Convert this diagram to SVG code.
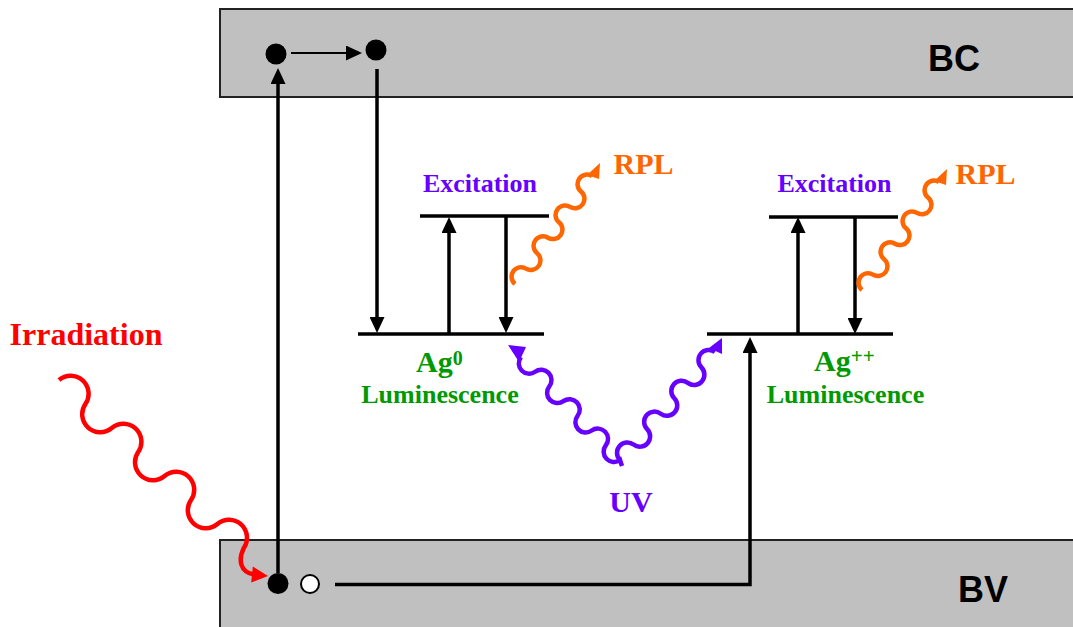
<svg xmlns="http://www.w3.org/2000/svg" width="1073" height="627" viewBox="0 0 1073 627">
<defs>
<marker id="ah" markerUnits="userSpaceOnUse" markerWidth="16" markerHeight="15" refX="8" refY="7.5" orient="auto">
<path d="M0,0 L16,7.5 L0,15 Z" fill="#000"/>
</marker>
</defs>
<style>
.band{fill:#c0c0c0;stroke:#222;stroke-width:2}
.lvl{stroke:#000;stroke-width:3.5;fill:none}
.arr{stroke:#000;stroke-width:3.5;fill:none;marker-end:url(#ah)}
.thin{stroke:#000;stroke-width:2;fill:none;marker-end:url(#ah)}
.wave{fill:none;stroke-width:4.5;stroke-linecap:butt}
.serif{font-family:"Liberation Serif","Times New Roman",serif;font-weight:bold}
.sans{font-family:"Liberation Sans",Arial,sans-serif;font-weight:bold;font-size:36px;fill:#000}
.red{fill:#ff0000}.orange{fill:#ff6600}.purple{fill:#6600ff}.green{fill:#009900}
</style>
<rect width="1073" height="627" fill="#fff"/>
<g id="bc-band">
<rect class="band" x="220" y="9" width="870" height="88"/>
<text class="sans" x="954" y="71" text-anchor="middle">BC</text>
</g>
<g id="bv-band">
<rect class="band" x="220" y="540" width="870" height="100"/>
<text class="sans" x="983" y="602" text-anchor="middle">BV</text>
</g>
<g id="electrons">
<circle cx="276" cy="54" r="10.5" fill="#000"/>
<circle cx="376" cy="50" r="10.5" fill="#000"/>
<circle cx="278" cy="583.5" r="10.5" fill="#000"/>
<circle cx="310" cy="584" r="9" fill="#fff" stroke="#000" stroke-width="2"/>
</g>
<g id="ag0">
<line class="lvl" x1="358" y1="334" x2="544" y2="334"/>
<line class="lvl" x1="420" y1="216" x2="549" y2="216"/>
<text class="serif purple" x="480" y="192" font-size="26" text-anchor="middle">Excitation</text>
<text class="serif green" x="416" y="372" font-size="30">Ag<tspan font-size="20" dy="-7">0</tspan></text>
<text class="serif green" x="440" y="403" font-size="26" text-anchor="middle">Luminescence</text>
</g>
<g id="agpp">
<line class="lvl" x1="707" y1="334" x2="893" y2="334"/>
<line class="lvl" x1="769" y1="217" x2="898" y2="217"/>
<text class="serif purple" x="834.5" y="192" font-size="26" text-anchor="middle">Excitation</text>
<text class="serif green" x="814" y="371" font-size="30">Ag<tspan font-size="21" dy="-8">++</tspan></text>
<text class="serif green" x="845.5" y="403" font-size="26" text-anchor="middle">Luminescence</text>
</g>
<g id="labels">
<text class="serif red" x="86" y="345" font-size="32" text-anchor="middle">Irradiation</text>
<text class="serif orange" x="643.5" y="174" font-size="30" text-anchor="middle">RPL</text>
<text class="serif orange" x="985.5" y="184" font-size="30" text-anchor="middle">RPL</text>
<text class="serif purple" x="631" y="512" font-size="30" text-anchor="middle">UV</text>
</g>
<g id="connectors">
<line class="arr" x1="278" y1="573" x2="278" y2="76"/>
<line class="thin" x1="291" y1="53" x2="354" y2="53"/>
<line class="arr" x1="377" y1="69" x2="377" y2="325"/>
<line class="arr" x1="449" y1="334" x2="449" y2="225"/>
<line class="arr" x1="506" y1="216" x2="506" y2="325"/>
<line class="arr" x1="798" y1="334" x2="798" y2="225"/>
<line class="arr" x1="855" y1="217" x2="855" y2="326"/>
<path class="arr" d="M335,584.5 H750 V345"/>
<g id="irradiation-wave">
<path class="wave" stroke="#ff0000" d="M59,380 a18,18 0 0 1 26.4,24 a18,18 0 0 0 26.4,24 a18,18 0 0 1 26.4,24 a18,18 0 0 0 26.4,24 a18,18 0 0 1 26.4,24 a18,18 0 0 0 26.4,24 a18,18 0 0 1 26.4,24 C238,560 240,572 254,574.5"/>
<polygon points="268,576 252.8,566.5 251.2,582.5" fill="#ff0000"/>
</g>
<g id="rpl-wave-left">
<path class="wave" stroke="#ff6600" d="M515,284 a9.5,9.5 0 0 1 11,-15.43 a9.5,9.5 0 0 0 11,-15.43 a9.5,9.5 0 0 1 11,-15.43 a9.5,9.5 0 0 0 11,-15.43 a9.5,9.5 0 0 1 11,-15.43 a9.5,9.5 0 0 0 11,-15.43 a9.5,9.5 0 0 1 11,-15.43"/>
<polygon points="600,163 587,175 599,179" fill="#ff6600"/>
</g>
<g id="rpl-wave-right" transform="translate(347,6)">
<path class="wave" stroke="#ff6600" d="M515,284 a9.5,9.5 0 0 1 11,-15.43 a9.5,9.5 0 0 0 11,-15.43 a9.5,9.5 0 0 1 11,-15.43 a9.5,9.5 0 0 0 11,-15.43 a9.5,9.5 0 0 1 11,-15.43 a9.5,9.5 0 0 0 11,-15.43 a9.5,9.5 0 0 1 11,-15.43"/>
<polygon points="600,163 587,175 599,179" fill="#ff6600"/>
</g>
<g id="uv-wave-left">
<path class="wave" stroke="#6600ff" d="M521,357 a10.3,10.3 0 0 0 14.14,14.71 a10.3,10.3 0 0 1 14.14,14.71 a10.3,10.3 0 0 0 14.14,14.71 a10.3,10.3 0 0 1 14.14,14.71 a10.3,10.3 0 0 0 14.14,14.71 a10.3,10.3 0 0 1 14.14,14.71 a10.3,10.3 0 0 0 14.14,14.71 l2,6"/>
<polygon points="508,345 526,347 519,362" fill="#6600ff"/>
</g>
<g id="uv-wave-right">
<path class="wave" stroke="#6600ff" d="M620,460 a10.3,10.3 0 0 1 13.57,-15.43 a10.3,10.3 0 0 0 13.57,-15.43 a10.3,10.3 0 0 1 13.57,-15.43 a10.3,10.3 0 0 0 13.57,-15.43 a10.3,10.3 0 0 1 13.57,-15.43 a10.3,10.3 0 0 0 13.57,-15.43 a10.3,10.3 0 0 1 13.57,-15.43"/>
<polygon points="722,338 709,348 722,354" fill="#6600ff"/>
</g>
</g>
</svg>
